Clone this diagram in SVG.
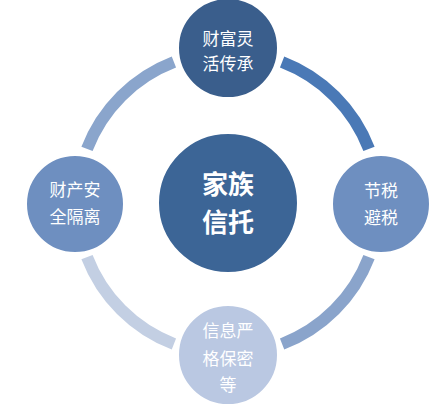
<svg xmlns="http://www.w3.org/2000/svg" width="439" height="409" viewBox="0 0 439 409">
  <style>
    .arc { fill: none; stroke-width: 12; stroke-linecap: butt; }
    .node { stroke: #ffffff; stroke-width: 2; }
    .lbl { font-family: "Noto Sans CJK SC", "Noto Sans", sans-serif; font-size: 17px; fill: #ffffff; text-anchor: middle; dominant-baseline: central; }
    .big { font-family: "Noto Sans CJK SC", "Noto Sans", sans-serif; font-size: 26px; font-weight: bold; fill: #ffffff; text-anchor: middle; dominant-baseline: central; }
  </style>
  <rect width="439" height="409" fill="#ffffff"/>
  <g id="connectors">
    <path class="arc" stroke="#4A79B6" d="M282.1,62 A151,151 0 0 1 369,148.9"/>
    <path class="arc" stroke="#8AA4CB" d="M369,257.1 A151,151 0 0 1 282.1,344"/>
    <path class="arc" stroke="#C3CFE3" d="M173.9,344 A151,151 0 0 1 87,257.1"/>
    <path class="arc" stroke="#8AA5CC" d="M87,148.9 A151,151 0 0 1 173.9,62"/>
  </g>
  <g id="center">
    <circle class="node" cx="228" cy="203" r="70" fill="#3C6596"/>
    <text class="big" x="228" y="182">家族</text>
    <text class="big" x="228" y="220">信托</text>
  </g>
  <g id="top">
    <circle class="node" cx="228" cy="48" r="50" fill="#3A5E8C"/>
    <text class="lbl" x="228" y="37">财富灵</text>
    <text class="lbl" x="228" y="62">活传承</text>
  </g>
  <g id="right">
    <circle class="node" cx="381" cy="204" r="49" fill="#6E8FC0"/>
    <text class="lbl" x="381" y="189">节税</text>
    <text class="lbl" x="381" y="216">避税</text>
  </g>
  <g id="left">
    <circle class="node" cx="75" cy="204" r="49" fill="#6E8FC0"/>
    <text class="lbl" x="75" y="188">财产安</text>
    <text class="lbl" x="75" y="215">全隔离</text>
  </g>
  <g id="bottom">
    <circle class="node" cx="228" cy="355" r="50" fill="#BAC8E2"/>
    <text class="lbl" x="228" y="329">信息严</text>
    <text class="lbl" x="228" y="357">格保密</text>
    <text class="lbl" x="228" y="383">等</text>
  </g>
</svg>
